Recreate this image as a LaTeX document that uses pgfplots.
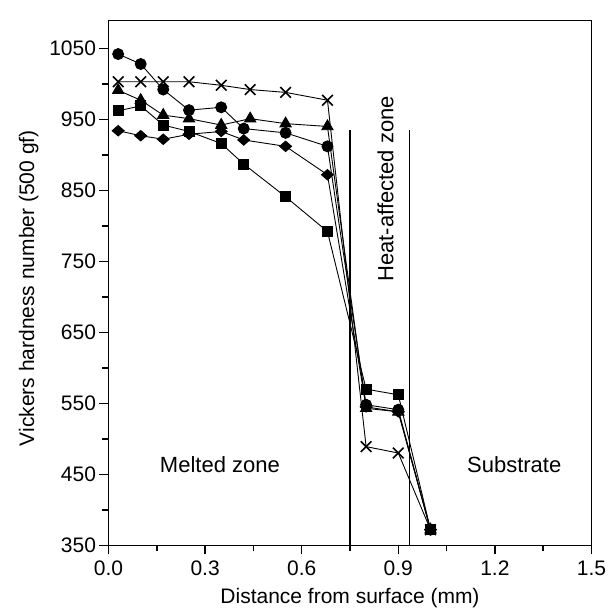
\documentclass[border=0pt]{standalone}
\usepackage{pgfplots}
\pgfplotsset{compat=1.18}
\usepackage{fontspec}
\setmainfont{Liberation Sans}
\begin{document}
\begin{tikzpicture}
\begin{axis}[
  at={(0,0)}, anchor=south west,
  scale only axis,
  width=483bp, height=524.6bp,
  xmin=0, xmax=1.5, ymin=350, ymax=1089,
  xtick={0,0.3,...,1.5}, minor xtick={0.15,0.45,...,1.35},
  ytick={350,450,...,1050}, minor ytick={400,500,...,1000},
  xtick pos=left, ytick pos=left,
  tick align=outside,
  major tick length=9bp, minor tick length=6bp,
  every tick/.append style={black, line width=1.5pt},
  axis line style={line width=0.9pt},
  /pgf/number format/assume math mode=true,
  xticklabel style={yshift=-3bp, /pgf/number format/.cd, fixed, fixed zerofill, precision=1},
  yticklabel style={/pgf/number format/.cd, 1000 sep={}},
  tick label style={font=\fontsize{21bp}{24bp}\selectfont},
  xlabel={Distance from surface (mm)},
  ylabel={Vickers hardness number (500 gf)},
  every axis x label/.style={at={(axis description cs:0.5,-0.1)}, anchor=center, font=\fontsize{21bp}{24bp}\selectfont},
  every axis y label/.style={at={(axis description cs:-0.165,0.49)}, anchor=center, rotate=90, font=\fontsize{21bp}{24bp}\selectfont},
  clip=false,
]
% zone boundaries
\addplot[black, line width=1.1pt, mark=none] coordinates {(0.75,350) (0.75,935)};
\addplot[black, line width=1.1pt, mark=none] coordinates {(0.936,350) (0.936,935)};
% circles
\addplot[black, line width=0.9pt, mark=*, mark size=5.5bp] coordinates {
(0.03,1042) (0.10,1028) (0.17,992) (0.25,963) (0.35,967) (0.42,937) (0.55,931) (0.68,912) (0.80,548) (0.90,541) (1.00,372)};
% crosses
\addplot[black, line width=0.9pt, mark=x, mark size=7.5bp, mark options={line width=1.6pt}] coordinates {
(0.03,1003) (0.10,1003) (0.17,1003) (0.25,1003) (0.35,998) (0.44,992) (0.55,988) (0.68,977) (0.80,489) (0.90,480) (1.00,372)};
% triangles
\addplot[black, line width=0.9pt, mark=triangle*, mark size=6.5bp] coordinates {
(0.03,991) (0.10,977) (0.17,956) (0.25,951) (0.35,942) (0.44,951) (0.55,944) (0.68,940) (0.80,543) (0.90,538) (1.00,372)};
% squares
\addplot[black, line width=0.9pt, mark=square*, mark size=5bp] coordinates {
(0.03,962) (0.10,969) (0.17,942) (0.25,933) (0.35,916) (0.42,887) (0.55,841) (0.68,792) (0.80,570) (0.90,562) (1.00,372)};
% diamonds
\addplot[black, line width=0.9pt, mark=diamond*, mark size=5.5bp, mark options={xscale=1.45, yscale=0.95}] coordinates {
(0.03,934) (0.10,927) (0.17,922) (0.25,929) (0.35,933) (0.42,921) (0.55,912) (0.68,872) (0.80,545) (0.90,538) (1.00,372)};
\node[font=\fontsize{22bp}{25bp}\selectfont] at (axis cs:0.346,463) {Melted zone};
\node[font=\fontsize{22bp}{25bp}\selectfont] at (axis cs:1.26,463) {Substrate};
\node[font=\fontsize{22bp}{25bp}\selectfont, rotate=90] at (axis cs:0.86,852) {Heat-affected zone};
\end{axis}
\path (current axis.south west) ++(-108.5bp,-64.7bp) coordinate (bbA);
\path (current axis.south west) ++(504.5bp,545.3bp) coordinate (bbB);
\path (bbA) rectangle (bbB);
\end{tikzpicture}
\end{document}
